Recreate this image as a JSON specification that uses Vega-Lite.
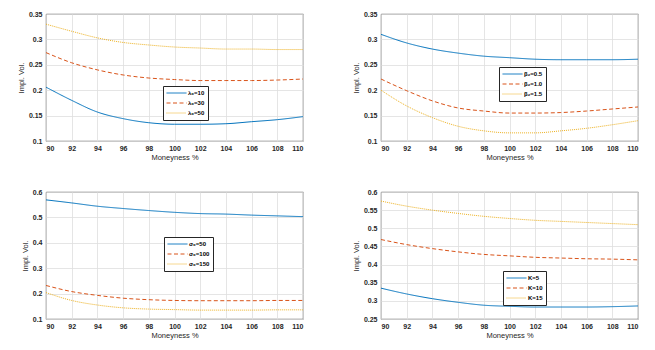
{
  "$schema": "https://vega.github.io/schema/vega-lite/v6.json",
  "padding": {"left": 16, "top": 9, "right": 5, "bottom": 5},
  "background": "white",
  "config": {
    "font": "Liberation Sans",
    "view": {"stroke": "#262626", "strokeWidth": 0.8},
    "axis": {
      "labelFontSize": 7, "labelColor": "#262626", "labelFontWeight": "bold",
      "titleFontSize": 7.5, "titleColor": "#262626", "titleFontWeight": "normal",
      "gridColor": "#dedede", "gridWidth": 0.8, "domain": false, "ticks": false,
      "labelPadding": 4
    },
    "axisX": {"titlePadding": 2, "labelPadding": 3},
    "axisY": {"titlePadding": 3},
    "legend": {
      "orient": "none", "title": null, "fillColor": "white", "strokeColor": "#262626",
      "padding": 3, "labelFontSize": 6, "labelFontWeight": "bold", "labelColor": "#000000",
      "symbolType": "stroke", "symbolSize": 400, "symbolStrokeWidth": 1, "rowPadding": 2,
      "clipHeight": 8, "labelOffset": 1
    },
    "line": {"strokeWidth": 1, "interpolate": "monotone"}
  },
  "datasets": {
    "p1": [
      {"m": 90, "v": 0.206, "s": "λ₀=10"}, {"m": 92, "v": 0.180, "s": "λ₀=10"}, {"m": 94, "v": 0.157, "s": "λ₀=10"}, {"m": 96, "v": 0.144, "s": "λ₀=10"}, {"m": 98, "v": 0.136, "s": "λ₀=10"}, {"m": 100, "v": 0.133, "s": "λ₀=10"}, {"m": 102, "v": 0.133, "s": "λ₀=10"}, {"m": 104, "v": 0.134, "s": "λ₀=10"}, {"m": 106, "v": 0.138, "s": "λ₀=10"}, {"m": 108, "v": 0.142, "s": "λ₀=10"}, {"m": 110, "v": 0.148, "s": "λ₀=10"},
      {"m": 90, "v": 0.274, "s": "λ₀=30"}, {"m": 92, "v": 0.254, "s": "λ₀=30"}, {"m": 94, "v": 0.240, "s": "λ₀=30"}, {"m": 96, "v": 0.230, "s": "λ₀=30"}, {"m": 98, "v": 0.224, "s": "λ₀=30"}, {"m": 100, "v": 0.221, "s": "λ₀=30"}, {"m": 102, "v": 0.219, "s": "λ₀=30"}, {"m": 104, "v": 0.219, "s": "λ₀=30"}, {"m": 106, "v": 0.219, "s": "λ₀=30"}, {"m": 108, "v": 0.220, "s": "λ₀=30"}, {"m": 110, "v": 0.222, "s": "λ₀=30"},
      {"m": 90, "v": 0.330, "s": "λ₀=50"}, {"m": 92, "v": 0.316, "s": "λ₀=50"}, {"m": 94, "v": 0.303, "s": "λ₀=50"}, {"m": 96, "v": 0.294, "s": "λ₀=50"}, {"m": 98, "v": 0.289, "s": "λ₀=50"}, {"m": 100, "v": 0.285, "s": "λ₀=50"}, {"m": 102, "v": 0.283, "s": "λ₀=50"}, {"m": 104, "v": 0.281, "s": "λ₀=50"}, {"m": 106, "v": 0.281, "s": "λ₀=50"}, {"m": 108, "v": 0.280, "s": "λ₀=50"}, {"m": 110, "v": 0.280, "s": "λ₀=50"}
    ],
    "p2": [
      {"m": 90, "v": 0.310, "s": "β₂=0.5"}, {"m": 92, "v": 0.293, "s": "β₂=0.5"}, {"m": 94, "v": 0.281, "s": "β₂=0.5"}, {"m": 96, "v": 0.273, "s": "β₂=0.5"}, {"m": 98, "v": 0.267, "s": "β₂=0.5"}, {"m": 100, "v": 0.264, "s": "β₂=0.5"}, {"m": 102, "v": 0.261, "s": "β₂=0.5"}, {"m": 104, "v": 0.260, "s": "β₂=0.5"}, {"m": 106, "v": 0.260, "s": "β₂=0.5"}, {"m": 108, "v": 0.260, "s": "β₂=0.5"}, {"m": 110, "v": 0.261, "s": "β₂=0.5"},
      {"m": 90, "v": 0.222, "s": "β₂=1.0"}, {"m": 92, "v": 0.199, "s": "β₂=1.0"}, {"m": 94, "v": 0.179, "s": "β₂=1.0"}, {"m": 96, "v": 0.165, "s": "β₂=1.0"}, {"m": 98, "v": 0.159, "s": "β₂=1.0"}, {"m": 100, "v": 0.155, "s": "β₂=1.0"}, {"m": 102, "v": 0.155, "s": "β₂=1.0"}, {"m": 104, "v": 0.156, "s": "β₂=1.0"}, {"m": 106, "v": 0.159, "s": "β₂=1.0"}, {"m": 108, "v": 0.163, "s": "β₂=1.0"}, {"m": 110, "v": 0.167, "s": "β₂=1.0"},
      {"m": 90, "v": 0.200, "s": "β₂=1.5"}, {"m": 92, "v": 0.169, "s": "β₂=1.5"}, {"m": 94, "v": 0.146, "s": "β₂=1.5"}, {"m": 96, "v": 0.129, "s": "β₂=1.5"}, {"m": 98, "v": 0.120, "s": "β₂=1.5"}, {"m": 100, "v": 0.116, "s": "β₂=1.5"}, {"m": 102, "v": 0.116, "s": "β₂=1.5"}, {"m": 104, "v": 0.120, "s": "β₂=1.5"}, {"m": 106, "v": 0.125, "s": "β₂=1.5"}, {"m": 108, "v": 0.132, "s": "β₂=1.5"}, {"m": 110, "v": 0.140, "s": "β₂=1.5"}
    ],
    "p3": [
      {"m": 90, "v": 0.569, "s": "σ₀=50"}, {"m": 92, "v": 0.557, "s": "σ₀=50"}, {"m": 94, "v": 0.544, "s": "σ₀=50"}, {"m": 96, "v": 0.535, "s": "σ₀=50"}, {"m": 98, "v": 0.527, "s": "σ₀=50"}, {"m": 100, "v": 0.520, "s": "σ₀=50"}, {"m": 102, "v": 0.515, "s": "σ₀=50"}, {"m": 104, "v": 0.513, "s": "σ₀=50"}, {"m": 106, "v": 0.509, "s": "σ₀=50"}, {"m": 108, "v": 0.506, "s": "σ₀=50"}, {"m": 110, "v": 0.503, "s": "σ₀=50"},
      {"m": 90, "v": 0.232, "s": "σ₀=100"}, {"m": 92, "v": 0.208, "s": "σ₀=100"}, {"m": 94, "v": 0.193, "s": "σ₀=100"}, {"m": 96, "v": 0.182, "s": "σ₀=100"}, {"m": 98, "v": 0.176, "s": "σ₀=100"}, {"m": 100, "v": 0.173, "s": "σ₀=100"}, {"m": 102, "v": 0.172, "s": "σ₀=100"}, {"m": 104, "v": 0.172, "s": "σ₀=100"}, {"m": 106, "v": 0.172, "s": "σ₀=100"}, {"m": 108, "v": 0.173, "s": "σ₀=100"}, {"m": 110, "v": 0.173, "s": "σ₀=100"},
      {"m": 90, "v": 0.204, "s": "σ₀=150"}, {"m": 92, "v": 0.173, "s": "σ₀=150"}, {"m": 94, "v": 0.155, "s": "σ₀=150"}, {"m": 96, "v": 0.144, "s": "σ₀=150"}, {"m": 98, "v": 0.139, "s": "σ₀=150"}, {"m": 100, "v": 0.137, "s": "σ₀=150"}, {"m": 102, "v": 0.135, "s": "σ₀=150"}, {"m": 104, "v": 0.135, "s": "σ₀=150"}, {"m": 106, "v": 0.135, "s": "σ₀=150"}, {"m": 108, "v": 0.136, "s": "σ₀=150"}, {"m": 110, "v": 0.136, "s": "σ₀=150"}
    ],
    "p4": [
      {"m": 90, "v": 0.335, "s": "K=5"}, {"m": 92, "v": 0.319, "s": "K=5"}, {"m": 94, "v": 0.306, "s": "K=5"}, {"m": 96, "v": 0.296, "s": "K=5"}, {"m": 98, "v": 0.288, "s": "K=5"}, {"m": 100, "v": 0.285, "s": "K=5"}, {"m": 102, "v": 0.283, "s": "K=5"}, {"m": 104, "v": 0.283, "s": "K=5"}, {"m": 106, "v": 0.283, "s": "K=5"}, {"m": 108, "v": 0.284, "s": "K=5"}, {"m": 110, "v": 0.286, "s": "K=5"},
      {"m": 90, "v": 0.469, "s": "K=10"}, {"m": 92, "v": 0.455, "s": "K=10"}, {"m": 94, "v": 0.444, "s": "K=10"}, {"m": 96, "v": 0.435, "s": "K=10"}, {"m": 98, "v": 0.428, "s": "K=10"}, {"m": 100, "v": 0.424, "s": "K=10"}, {"m": 102, "v": 0.420, "s": "K=10"}, {"m": 104, "v": 0.418, "s": "K=10"}, {"m": 106, "v": 0.416, "s": "K=10"}, {"m": 108, "v": 0.415, "s": "K=10"}, {"m": 110, "v": 0.413, "s": "K=10"},
      {"m": 90, "v": 0.575, "s": "K=15"}, {"m": 92, "v": 0.561, "s": "K=15"}, {"m": 94, "v": 0.550, "s": "K=15"}, {"m": 96, "v": 0.541, "s": "K=15"}, {"m": 98, "v": 0.533, "s": "K=15"}, {"m": 100, "v": 0.527, "s": "K=15"}, {"m": 102, "v": 0.522, "s": "K=15"}, {"m": 104, "v": 0.519, "s": "K=15"}, {"m": 106, "v": 0.516, "s": "K=15"}, {"m": 108, "v": 0.513, "s": "K=15"}, {"m": 110, "v": 0.510, "s": "K=15"}
    ]
  },
  "columns": 2,
  "spacing": {"row": 26, "column": 47},
  "resolve": {"scale": {"color": "independent", "strokeDash": "independent", "y": "independent", "x": "independent"}, "legend": {"color": "independent", "strokeDash": "independent"}},
  "concat": [
    {
      "width": 257, "height": 127,
      "data": {"name": "p1"},
      "mark": {"type": "line", "clip": true},
      "encoding": {
        "x": {"field": "m", "type": "quantitative", "title": "Moneyness %", "scale": {"domain": [90, 110], "nice": false}, "axis": {"values": [90, 92, 94, 96, 98, 100, 102, 104, 106, 108, 110]}},
        "y": {"field": "v", "type": "quantitative", "title": "Impl. Vol.", "scale": {"domain": [0.1, 0.35], "nice": false, "zero": false}, "axis": {"values": [0.1, 0.15, 0.2, 0.25, 0.3, 0.35], "format": "~g"}},
        "color": {"field": "s", "type": "nominal", "scale": {"domain": ["λ₀=10", "λ₀=30", "λ₀=50"], "range": ["#0072BD", "#D95319", "#EDB120"]}, "legend": {"legendX": 117, "legendY": 72}},
        "strokeDash": {"field": "s", "type": "nominal", "scale": {"domain": ["λ₀=10", "λ₀=30", "λ₀=50"], "range": [[1, 0], [4, 2.5], [1, 1]]}, "legend": {"legendX": 117, "legendY": 72}}
      }
    },
    {
      "width": 257, "height": 127,
      "data": {"name": "p2"},
      "mark": {"type": "line", "clip": true},
      "encoding": {
        "x": {"field": "m", "type": "quantitative", "title": "Moneyness %", "scale": {"domain": [90, 110], "nice": false}, "axis": {"values": [90, 92, 94, 96, 98, 100, 102, 104, 106, 108, 110]}},
        "y": {"field": "v", "type": "quantitative", "title": "Impl. Vol.", "scale": {"domain": [0.1, 0.35], "nice": false, "zero": false}, "axis": {"values": [0.1, 0.15, 0.2, 0.25, 0.3, 0.35], "format": "~g"}},
        "color": {"field": "s", "type": "nominal", "scale": {"domain": ["β₂=0.5", "β₂=1.0", "β₂=1.5"], "range": ["#0072BD", "#D95319", "#EDB120"]}, "legend": {"legendX": 118, "legendY": 53}},
        "strokeDash": {"field": "s", "type": "nominal", "scale": {"domain": ["β₂=0.5", "β₂=1.0", "β₂=1.5"], "range": [[1, 0], [4, 2.5], [1, 1]]}, "legend": {"legendX": 118, "legendY": 53}}
      }
    },
    {
      "width": 257, "height": 127,
      "data": {"name": "p3"},
      "mark": {"type": "line", "clip": true},
      "encoding": {
        "x": {"field": "m", "type": "quantitative", "title": "Moneyness %", "scale": {"domain": [90, 110], "nice": false}, "axis": {"values": [90, 92, 94, 96, 98, 100, 102, 104, 106, 108, 110]}},
        "y": {"field": "v", "type": "quantitative", "title": "Impl. Vol.", "scale": {"domain": [0.1, 0.6], "nice": false, "zero": false}, "axis": {"values": [0.1, 0.2, 0.3, 0.4, 0.5, 0.6], "format": "~g"}},
        "color": {"field": "s", "type": "nominal", "scale": {"domain": ["σ₀=50", "σ₀=100", "σ₀=150"], "range": ["#0072BD", "#D95319", "#EDB120"]}, "legend": {"legendX": 118, "legendY": 45}},
        "strokeDash": {"field": "s", "type": "nominal", "scale": {"domain": ["σ₀=50", "σ₀=100", "σ₀=150"], "range": [[1, 0], [4, 2.5], [1, 1]]}, "legend": {"legendX": 118, "legendY": 45}}
      }
    },
    {
      "width": 257, "height": 127,
      "data": {"name": "p4"},
      "mark": {"type": "line", "clip": true},
      "encoding": {
        "x": {"field": "m", "type": "quantitative", "title": "Moneyness %", "scale": {"domain": [90, 110], "nice": false}, "axis": {"values": [90, 92, 94, 96, 98, 100, 102, 104, 106, 108, 110]}},
        "y": {"field": "v", "type": "quantitative", "title": "Impl. Vol.", "scale": {"domain": [0.25, 0.6], "nice": false, "zero": false}, "axis": {"values": [0.25, 0.3, 0.35, 0.4, 0.45, 0.5, 0.55, 0.6], "format": "~g"}},
        "color": {"field": "s", "type": "nominal", "scale": {"domain": ["K=5", "K=10", "K=15"], "range": ["#0072BD", "#D95319", "#EDB120"]}, "legend": {"legendX": 122, "legendY": 79}},
        "strokeDash": {"field": "s", "type": "nominal", "scale": {"domain": ["K=5", "K=10", "K=15"], "range": [[1, 0], [4, 2.5], [1, 1]]}, "legend": {"legendX": 122, "legendY": 79}}
      }
    }
  ]
}
